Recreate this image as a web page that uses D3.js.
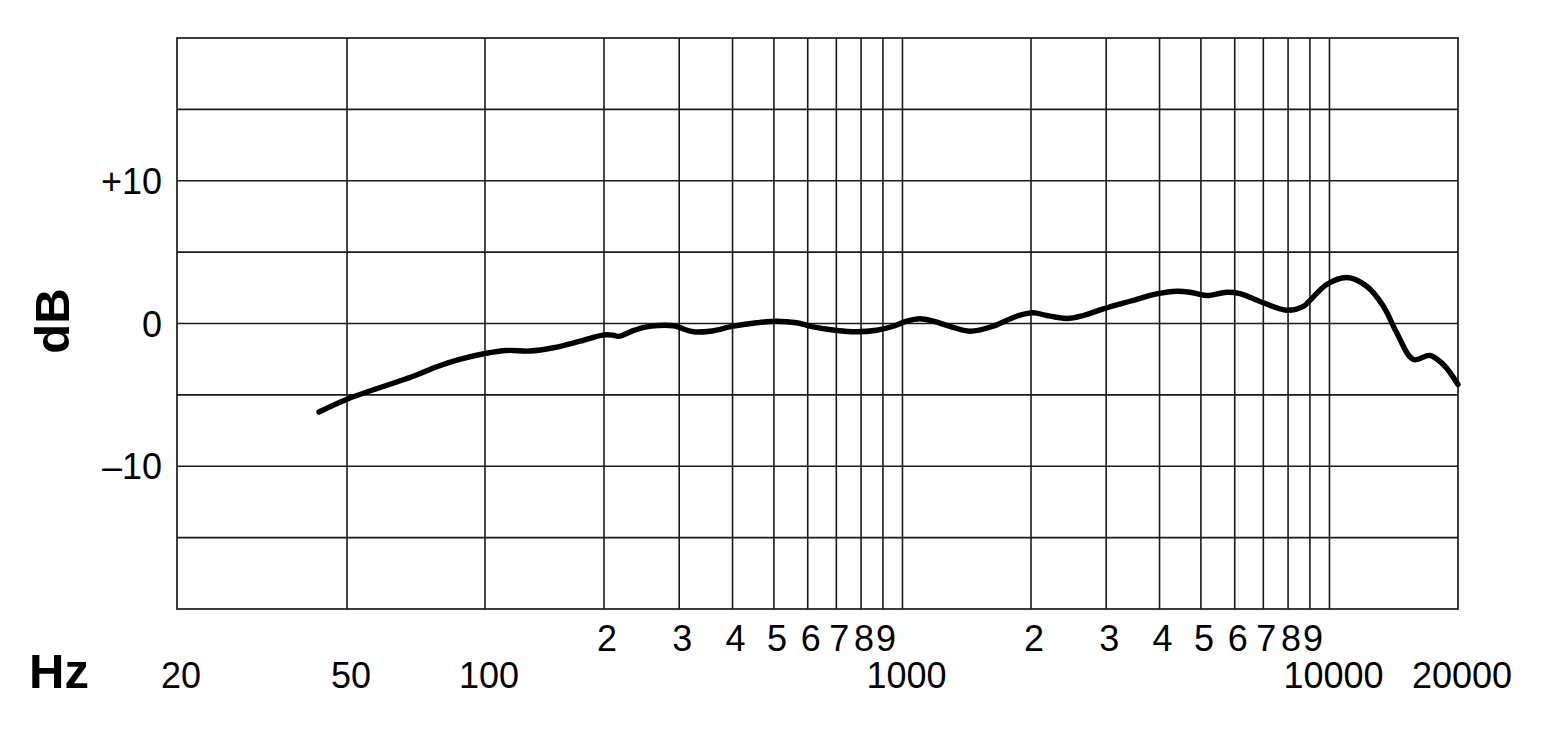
<!DOCTYPE html>
<html>
<head>
<meta charset="utf-8">
<script src="https://cdn.jsdelivr.net/npm/d3@7"></script>
<style>
  html, body { margin: 0; padding: 0; background: #fff; }
  svg { display: block; }
  text { font-family: "Liberation Sans", Arial, Helvetica, sans-serif; fill: #000; }
</style>
</head>
<body>
<svg id="chart" width="1560" height="731"></svg>
<script>
// ---- data ----
const freqHz = [43, 50, 70, 78.5, 88, 100, 113.5, 130, 149, 174, 200, 210, 216, 234, 250, 268, 291, 324, 354, 402, 456, 508, 565, 618, 702, 781, 870, 952, 1023, 1099, 1181, 1292, 1439, 1631, 1852, 2025, 2177, 2425, 2652, 2953, 3412, 3940, 4388, 4713, 5158, 5745, 6172, 6998, 7940, 8687, 9004, 9854, 10977, 12224, 13374, 14371, 15720, 17203, 18475, 20000];
const responseDb = [-6.2, -5.3, -3.68, -3.03, -2.52, -2.1, -1.89, -1.93, -1.7, -1.24, -0.8, -0.82, -0.9, -0.5, -0.25, -0.14, -0.16, -0.58, -0.54, -0.19, 0.05, 0.16, 0.05, -0.23, -0.49, -0.58, -0.47, -0.19, 0.16, 0.33, 0.16, -0.2, -0.54, -0.19, 0.51, 0.75, 0.56, 0.35, 0.56, 1.03, 1.56, 2.07, 2.26, 2.19, 1.96, 2.19, 2.1, 1.45, 0.93, 1.2, 1.62, 2.73, 3.22, 2.61, 1.21, -0.65, -2.52, -2.24, -2.87, -4.27];

const gridFreqs = [50, 100, 200, 300, 400, 500, 600, 700, 800, 900, 1000, 2000, 3000, 4000, 5000, 6000, 7000, 8000, 9000, 10000];
const gridDb = [-15, -10, -5, 0, 5, 10, 15];
const digitTickFreqs = [200, 300, 400, 500, 600, 700, 800, 900, 2000, 3000, 4000, 5000, 6000, 7000, 8000, 9000];
const digitTickLabels = ["2", "3", "4", "5", "6", "7", "8", "9", "2", "3", "4", "5", "6", "7", "8", "9"];
const decadeTickFreqs = [20, 50, 100, 1000, 10000, 20000];
const decadeTickLabels = ["20", "50", "100", "1000", "10000", "20000"];
const yTickDb = [10, 0, -10];
const yTickLabels = ["+10", "0", "\u201310"];
const xDomain = [20, 20000];
const yDomain = [-20, 20];

// ---- layout ----
const L = 177, R = 1458, T = 38, B = 609;
const svg = d3.select("#chart");

// log scale (the original sheet has the 100 Hz line slightly displaced; polylog reproduces it)
const x = d3.scaleLog()
  .domain([xDomain[0], 50, 100, 200, xDomain[1]])
  .range([L, 347, 485, 604, R]);
const y = d3.scaleLinear().domain(yDomain).range([B, T]);

const gridColor = "#1a1a1a";
const g = svg.append("g");

// horizontal grid
g.selectAll("line.h").data(gridDb).join("line")
  .attr("x1", L).attr("x2", R)
  .attr("y1", d => y(d)).attr("y2", d => y(d))
  .attr("stroke", gridColor).attr("stroke-width", 1.6);

// vertical grid
g.selectAll("line.v").data(gridFreqs).join("line")
  .attr("x1", d => x(d)).attr("x2", d => x(d))
  .attr("y1", T).attr("y2", B)
  .attr("stroke", gridColor).attr("stroke-width", 1.6);

// border
g.append("rect").attr("x", L).attr("y", T).attr("width", R - L).attr("height", B - T)
  .attr("fill", "none").attr("stroke", gridColor).attr("stroke-width", 1.7);

// curve
const pts = freqHz.map((f, i) => [f, responseDb[i]]);
const line = d3.line().x(d => x(d[0])).y(d => y(d[1])).curve(d3.curveCatmullRom.alpha(0.5));
svg.append("path").attr("d", line(pts))
  .attr("fill", "none").attr("stroke", "#000").attr("stroke-width", 5.4)
  .attr("stroke-linecap", "round").attr("stroke-linejoin", "round");

// x tick labels row 1
svg.selectAll("text.d").data(digitTickFreqs).join("text")
  .attr("x", d => x(d) + 3).attr("y", 651)
  .attr("text-anchor", "middle").attr("font-size", 36)
  .text((d, i) => digitTickLabels[i]);

// x tick labels row 2
svg.selectAll("text.dec").data(decadeTickFreqs).join("text")
  .attr("x", d => x(d) + 4).attr("y", 688)
  .attr("text-anchor", "middle").attr("font-size", 36)
  .text((d, i) => decadeTickLabels[i]);

// y tick labels
svg.selectAll("text.y").data(yTickDb).join("text")
  .attr("x", 162).attr("y", d => y(d) + 13)
  .attr("text-anchor", "end").attr("font-size", 36)
  .text((d, i) => yTickLabels[i]);

// axis titles
svg.append("text").attr("x", 29).attr("y", 688)
  .attr("font-size", 49).attr("font-weight", "bold").text("Hz");
svg.append("text").attr("transform", "translate(69,321) rotate(-90)")
  .attr("text-anchor", "middle").attr("font-size", 49).attr("font-weight", "bold").text("dB");
</script>
</body>
</html>
